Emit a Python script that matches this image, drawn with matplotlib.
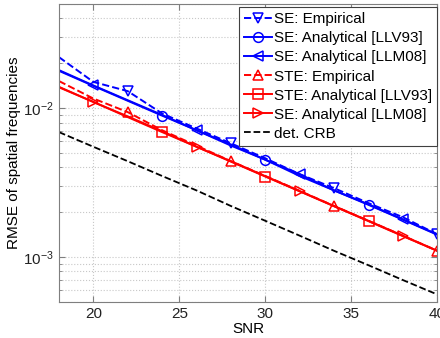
"""
plot.py
RMSE of spatial frequencies vs SNR (log scale), MATLAB-like look
"""

import matplotlib
matplotlib.use("Agg")
import matplotlib.pyplot as plt
from matplotlib.ticker import LogLocator, NullFormatter


# ── Data ───────────────────────────────────────────────────────────────────────
snr = [18, 20, 22, 24, 26, 28, 30, 32, 34, 36, 38, 40]

se_emp = [0.0220, 0.0150, 0.0130, 0.0092, 0.0073, 0.0058,
          0.0046, 0.0036, 0.0029, 0.0023, 0.00185, 0.00142]
se_llv93 = [0.0178, 0.0141, 0.0112, 0.0089, 0.0071, 0.0056,
            0.0045, 0.0035, 0.0028, 0.00224, 0.00178, 0.00141]
se_llm08 = [0.0180, 0.0142, 0.0113, 0.0090, 0.0071, 0.0057,
            0.0045, 0.0036, 0.0028, 0.00226, 0.00179, 0.00142]
ste_emp = [0.0152, 0.0116, 0.0094, 0.0071, 0.0056, 0.0044,
           0.0035, 0.00278, 0.00220, 0.00175, 0.00139, 0.00110]
ste_llv93 = [0.0138, 0.0110, 0.0087, 0.0069, 0.0055, 0.00437,
             0.00347, 0.00276, 0.00219, 0.00174, 0.00138, 0.00110]
ste_llm08 = [0.0139, 0.0110, 0.0088, 0.0070, 0.0055, 0.00440,
             0.00349, 0.00277, 0.00220, 0.00175, 0.00139, 0.00110]
crb = [0.0069, 0.0055, 0.0044, 0.0035, 0.0028, 0.0022,
       0.00175, 0.00139, 0.00110, 0.00088, 0.00070, 0.00056]

labels = ["SE: Empirical", "SE: Analytical [LLV93]", "SE: Analytical [LLM08]",
          "STE: Empirical", "STE: Analytical [LLV93]", "SE: Analytical [LLM08]",
          "det. CRB"]

BLUE = "#0000ff"
RED = "#ff0000"
GRID = "#c8c8c8"
SPINE = "#7f7f7f"

plt.rcParams["font.family"] = ["Liberation Sans", "DejaVu Sans"]
plt.rcParams["mathtext.fontset"] = "custom"
plt.rcParams["mathtext.rm"] = "Liberation Sans"
plt.rcParams["mathtext.it"] = "Liberation Sans"

fig = plt.figure(figsize=(4.4, 3.38), dpi=100)
ax = fig.add_axes([0.134, 0.107, 0.86, 0.881])

mk = dict(markersize=7, markerfacecolor="none", markeredgewidth=1.1)

ax.semilogy(snr, se_emp, "--", color=BLUE, lw=1.4, marker="v",
            markevery=(2, 3), label=labels[0], **mk)
ax.semilogy(snr, se_llv93, "-", color=BLUE, lw=1.4, marker="o",
            markevery=(3, 3), label=labels[1], **mk)
ax.semilogy(snr, se_llm08, "-", color=BLUE, lw=1.4, marker="<",
            markevery=(1, 3), label=labels[2], **mk)
ax.semilogy(snr, ste_emp, "--", color=RED, lw=1.4, marker="^",
            markevery=(2, 3), label=labels[3], **mk)
ax.semilogy(snr, ste_llv93, "-", color=RED, lw=1.4, marker="s",
            markevery=(3, 3), label=labels[4], **mk)
ax.semilogy(snr, ste_llm08, "-", color=RED, lw=1.4, marker=">",
            markevery=(1, 3), label=labels[5], **mk)
ax.semilogy(snr, crb, "--", color="black", lw=1.3, label=labels[6])

ax.set_xlim(18, 40)
ax.set_ylim(5e-4, 5e-2)
ax.set_xticks([20, 25, 30, 35, 40])
ax.yaxis.set_major_locator(LogLocator(base=10))
ax.yaxis.set_minor_locator(LogLocator(base=10, subs=range(2, 10)))
ax.yaxis.set_minor_formatter(NullFormatter())

ax.grid(True, which="major", color=GRID, linestyle=":", linewidth=0.8)
ax.grid(True, which="minor", axis="y", color=GRID, linestyle=":", linewidth=0.8)
ax.tick_params(which="both", direction="in", colors=SPINE, labelcolor="#222222",
               labelsize=11, top=True, right=True)
ax.tick_params(which="major", length=4)
ax.tick_params(which="minor", length=2)
for s in ax.spines.values():
    s.set_edgecolor(SPINE)
    s.set_linewidth(0.8)

ax.set_xlabel("SNR", fontsize=11, labelpad=1)
ax.set_ylabel("RMSE of spatial frequencies", fontsize=11, labelpad=2)

leg = ax.legend(loc="upper right", bbox_to_anchor=(1.0, 0.99), fontsize=11,
                labelspacing=0.33, handlelength=1.8, handletextpad=0.15,
                borderpad=0.35, borderaxespad=0.0, fancybox=False,
                framealpha=1.0, edgecolor="#404040")
leg.get_frame().set_linewidth(0.8)

fig.savefig("out.png", dpi=100)
